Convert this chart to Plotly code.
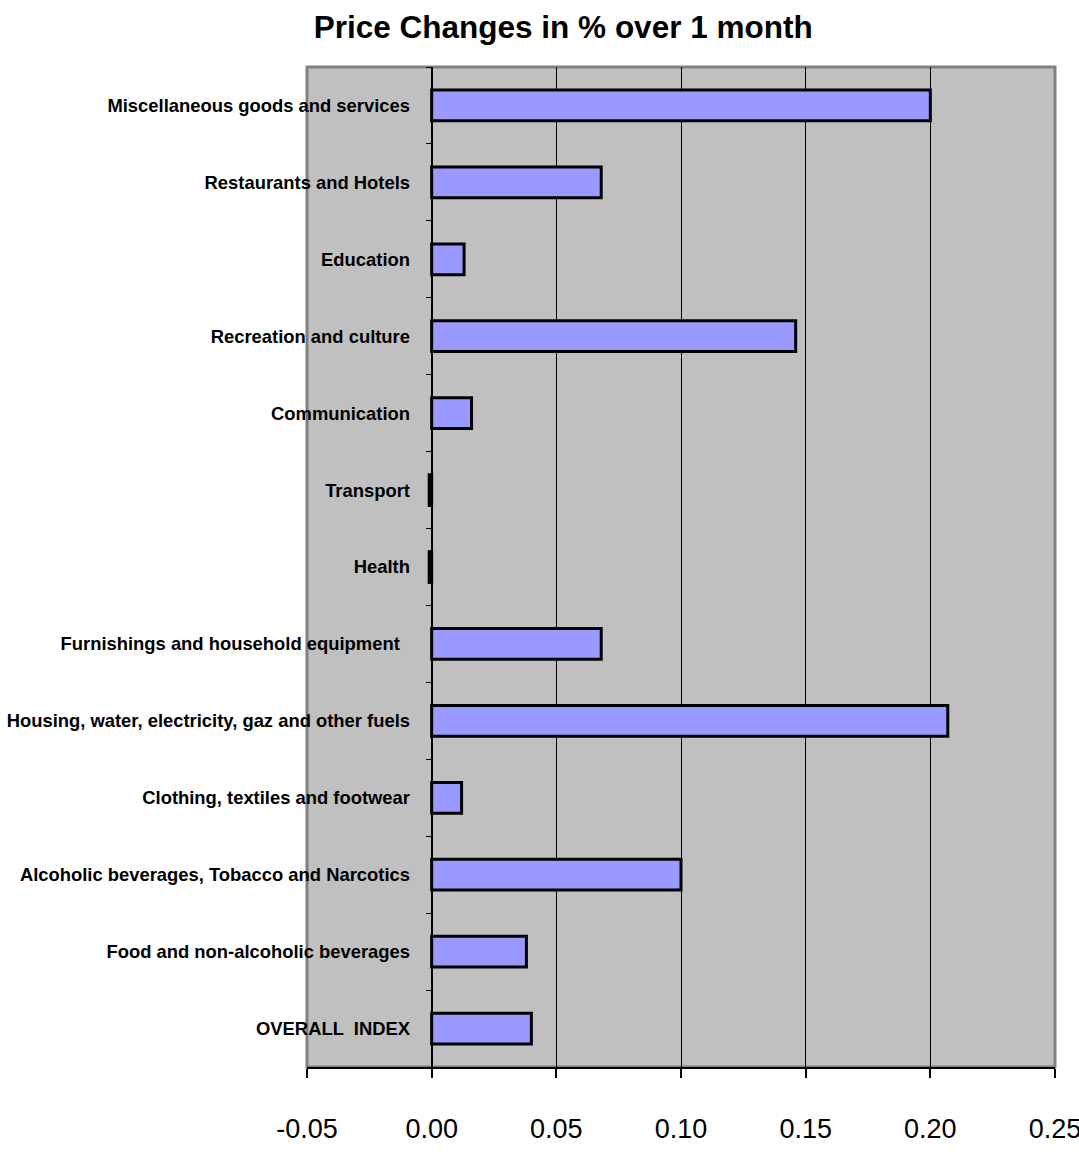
import plotly.graph_objects as go

categories = [
    "OVERALL  INDEX",
    "Food and non-alcoholic beverages",
    "Alcoholic beverages, Tobacco and Narcotics",
    "Clothing, textiles and footwear",
    "Housing, water, electricity, gaz and other fuels",
    "Furnishings and household equipment  ",
    "Health",
    "Transport",
    "Communication",
    "Recreation and culture",
    "Education",
    "Restaurants and Hotels",
    "Miscellaneous goods and services",
]
values = [0.040, 0.038, 0.100, 0.012, 0.207, 0.068, -0.001, -0.001, 0.016, 0.146, 0.013, 0.068, 0.200]
x_ticks = [-0.05, 0.00, 0.05, 0.10, 0.15, 0.20, 0.25]

FONT = "Liberation Sans Narrow, Arial Narrow, Liberation Sans, Arial, sans-serif"

fig = go.Figure(go.Bar(
    y=categories, x=values, orientation="h",
    marker=dict(color="#9999FF", line=dict(color="black", width=3)),
    width=0.4,
))

fig.update_layout(
    width=1079, height=1158,
    margin=dict(l=307, r=24, t=67, b=91, autoexpand=False),
    paper_bgcolor="white", plot_bgcolor="#C0C0C0",
    showlegend=False,
    title=dict(text="<b>Price Changes in % over 1 month</b>", x=0.522, xanchor="center",
               y=0.977, yanchor="middle",
               font=dict(family=FONT, size=31.5, color="black")),
    font=dict(family=FONT, color="black"),
)
fig.update_xaxes(
    range=[-0.05, 0.25], tickvals=x_ticks, ticktext=[f"{v:.2f}" for v in x_ticks],
    automargin=False, ticklabeloverflow="allow",
    showgrid=True, gridcolor="black", gridwidth=1,
    zeroline=False,
    showline=True, linecolor="black", linewidth=2,
    ticks="outside", ticklen=9, tickwidth=2, tickcolor="black",
    ticklabelstandoff=28,
    tickfont=dict(family=FONT, size=27, color="black"),
)
zero_pos = (0 - (-0.05)) / (0.25 - (-0.05))
fig.update_yaxes(
    type="category", categoryorder="array", categoryarray=categories,
    automargin=False, ticklabeloverflow="allow",
    anchor="free", position=zero_pos,
    showline=True, linecolor="black", linewidth=2,
    ticks="outside", tickson="boundaries", ticklen=5, tickwidth=1, tickcolor="black",
    ticklabelstandoff=17,
    showgrid=False,
    tickfont=dict(family=FONT, size=18.4, color="black"),
    tickprefix="<b>", ticksuffix="</b>",
)
fig.add_shape(type="rect", xref="paper", yref="paper", x0=0, x1=1, y0=0, y1=1,
              line=dict(color="#808080", width=3), fillcolor="rgba(0,0,0,0)", layer="below")

fig.write_html("out.html")
